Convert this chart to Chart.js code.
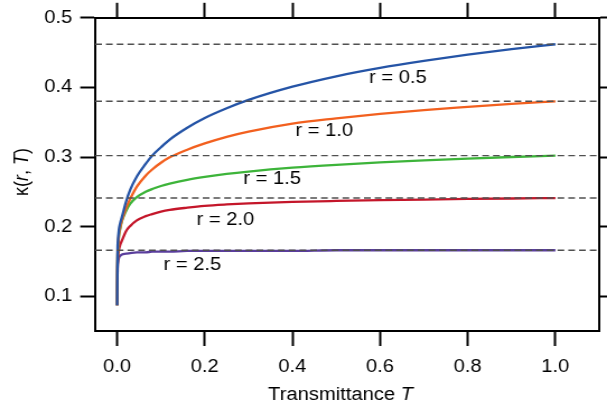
<!DOCTYPE html>
<html>
<head>
<meta charset="utf-8">
<script src="https://cdn.jsdelivr.net/npm/chart.js@4.4.0/dist/chart.umd.min.js"></script>
<style>
  html, body { margin: 0; padding: 0; background: #fff; overflow: hidden; }
  /* the source figure is a little wider than tall, so draw narrow and stretch */
  #wrap { width: 542px; height: 410px; transform: scaleX(1.12); transform-origin: 0 0; }
</style>
</head>
<body>
<div id="wrap"><canvas id="chart" width="542" height="410"></canvas></div>
<script>
const transmittance = [0, 0.001, 0.002, 0.004, 0.007, 0.011, 0.02, 0.03, 0.045, 0.065, 0.08, 0.1, 0.12, 0.16, 0.2, 0.25, 0.3, 0.4, 0.5, 0.6, 0.7, 0.8, 0.9, 1.0];

const kappaR05 = [0.087, 0.165, 0.18, 0.195, 0.205, 0.214, 0.235, 0.253, 0.272, 0.290, 0.302, 0.314, 0.325, 0.342, 0.356, 0.370, 0.382, 0.401, 0.416, 0.428, 0.438, 0.447, 0.455, 0.462];
const kappaR10 = [0.087, 0.155, 0.172, 0.188, 0.199, 0.209, 0.226, 0.240, 0.2574, 0.2732, 0.2821, 0.2917, 0.2995, 0.3105, 0.3195, 0.329, 0.3365, 0.348, 0.3555, 0.362, 0.3675, 0.372, 0.3763, 0.380];
const kappaR15 = [0.087, 0.152, 0.168, 0.186, 0.197, 0.208, 0.222, 0.233, 0.2425, 0.250, 0.254, 0.2583, 0.2617, 0.2672, 0.2714, 0.2757, 0.2791, 0.2846, 0.2888, 0.2923, 0.2952, 0.2978, 0.300, 0.302];
const kappaR20 = [0.087, 0.145, 0.156, 0.166, 0.174, 0.180, 0.193, 0.201, 0.209, 0.215, 0.218, 0.2215, 0.224, 0.2272, 0.2298, 0.2318, 0.2333, 0.2355, 0.2369, 0.238, 0.2389, 0.2397, 0.2404, 0.241];
const kappaR25 = [0.087, 0.14, 0.148, 0.155, 0.158, 0.160, 0.161, 0.162, 0.163, 0.163, 0.164, 0.164, 0.164, 0.165, 0.165, 0.165, 0.165, 0.165, 0.166, 0.166, 0.166, 0.166, 0.166, 0.166];

// limit of each curve at T = 1, shown as dashed lines
const limits = [0.462, 0.380, 0.302, 0.241, 0.166];

const seriesNames = ['r = 0.5', 'r = 1.0', 'r = 1.5', 'r = 2.0', 'r = 2.5'];
const xTicks = [0, 0.2, 0.4, 0.6, 0.8, 1.0];
const yTicks = [0.1, 0.2, 0.3, 0.4, 0.5];

const FONT = '"Liberation Sans", Arial, sans-serif';
const colors = ['#2554a6', '#f2601f', '#3db43a', '#c4162a', '#5a3e9c'];
// where each curve's name sits, in data units (left edge, middle)
const nameSpots = [[0.575, 0.413], [0.407, 0.337], [0.288, 0.269], [0.181, 0.210], [0.106, 0.145]];

const series = [kappaR05, kappaR10, kappaR15, kappaR20, kappaR25];

const curveSets = series.map((values, i) => ({
  label: seriesNames[i],
  data: transmittance.map((t, j) => ({ x: t, y: values[j] })),
  borderColor: colors[i],
  borderWidth: 2.3,
  pointRadius: 0,
  cubicInterpolationMode: 'monotone',
  order: 1,
}));

const limitSets = limits.map((k) => ({
  data: [{ x: -0.05, y: k }, { x: 1.1, y: k }],
  borderColor: '#505050',
  borderWidth: 1.4,
  borderDash: [6, 3.6],
  pointRadius: 0,
  order: 0,
}));

const setTicks = (list) => (scale) => {
  scale.ticks = list.map((value) => ({ value }));
};

const frame = (tickLength) => ({
  grid: { drawOnChartArea: false, drawTicks: true, tickLength, tickWidth: 2, tickColor: '#000' },
  border: { display: true, color: '#000', width: 2 },
});

const tickFont = { family: FONT, size: 18 };

/**
 * draws a line of text made of plain and italic runs, centred on x
 */
const drawRuns = (ctx, runs, x, y) => {
  const fonts = runs.map(([, italic]) => `${italic ? 'italic ' : ''}18px ${FONT}`);
  const widths = runs.map(([text], i) => {
    ctx.font = fonts[i];
    return ctx.measureText(text).width;
  });
  let cx = x - widths.reduce((a, b) => a + b, 0) / 2;
  runs.forEach(([text], i) => {
    ctx.font = fonts[i];
    ctx.fillText(text, cx, y);
    cx += widths[i];
  });
};

const textPlugin = {
  id: 'texts',
  afterDraw(chart) {
    const { ctx } = chart;
    const x = chart.scales.x;
    const y = chart.scales.y;
    ctx.save();
    ctx.fillStyle = '#000';
    ctx.textAlign = 'left';
    ctx.textBaseline = 'middle';

    drawRuns(ctx, [['Transmittance ', false], ['T', true]], 304, 395);

    ctx.save();
    ctx.translate(19.6, 172);
    ctx.rotate(-Math.PI / 2);
    drawRuns(ctx, [['κ(', false], ['r', true], [', ', false], ['T', true], [')', false]], 0, 0);
    ctx.restore();

    ctx.font = `18px ${FONT}`;
    seriesNames.forEach((name, i) => {
      const [t, k] = nameSpots[i];
      ctx.fillText(name, x.getPixelForValue(t), y.getPixelForValue(k));
    });
    ctx.restore();
  },
};

new Chart(document.getElementById('chart'), {
  type: 'line',
  data: { datasets: [...limitSets, ...curveSets] },
  options: {
    responsive: false,
    animation: false,
    devicePixelRatio: 1,
    layout: { padding: 0 },
    plugins: { legend: { display: false }, tooltip: { enabled: false } },
    scales: {
      x: {
        type: 'linear', position: 'bottom', min: -0.05, max: 1.1,
        afterBuildTicks: setTicks(xTicks),
        afterFit: (s) => { s.height = 79; },
        ...frame(15),
        ticks: { font: tickFont, color: '#000', padding: 10, maxRotation: 0, callback: (v) => v.toFixed(1) },
      },
      x2: {
        type: 'linear', position: 'top', min: -0.05, max: 1.1,
        afterBuildTicks: setTicks(xTicks),
        afterFit: (s) => { s.height = 16; },
        ...frame(15),
        ticks: { display: false },
      },
      y: {
        type: 'linear', position: 'left', min: 0.05, max: 0.5,
        afterBuildTicks: setTicks(yTicks),
        afterFit: (s) => { s.width = 85; },
        ...frame(13.4),
        ticks: { font: tickFont, color: '#000', padding: 7, callback: (v) => v.toFixed(1) },
      },
      y2: {
        type: 'linear', position: 'right', min: 0.05, max: 0.5,
        afterBuildTicks: setTicks(yTicks),
        afterFit: (s) => { s.width = 7; },
        ...frame(7),
        ticks: { display: false },
      },
    },
  },
  plugins: [textPlugin],
});
</script>
</body>
</html>
